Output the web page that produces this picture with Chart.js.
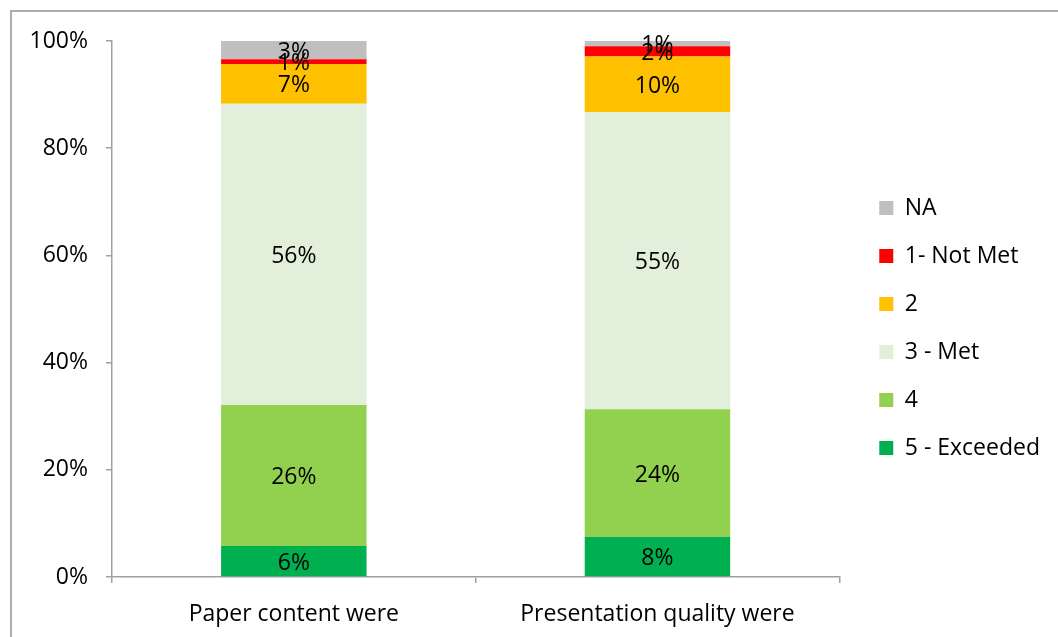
<!DOCTYPE html>
<html>
<head>
<meta charset="utf-8">
<script src="https://cdn.jsdelivr.net/npm/chart.js@4"></script>
<style>
  body { margin: 0; background: #fff; }
  .frame { position: absolute; left: 10px; top: 10px; width: 1100px; height: 700px;
           border-left: 2px solid #adadad; border-top: 2px solid #adadad; }
  .chart-box { position: absolute; left: 0; top: 0; width: 1058px; height: 637px; }
</style>
</head>
<body>
<div class="frame"></div>
<div class="chart-box"><canvas id="ratingChart"></canvas></div>
<script>
// questions on the x axis
const categories = ['Paper content were', 'Presentation quality were'];

// percent of answers, bottom of the stack first
const exceeded = [5.8, 7.5];
const four = [26.3, 23.8];
const met = [56.2, 55.4];
const two = [7.4, 10.4];
const notMet = [0.9, 1.9];
const na = [3.4, 1.0];

const yTicks = [0, 20, 40, 60, 80, 100];

const FONT = { family: 'Open Sans', size: 23 };
const AXIS_COLOR = '#a0a0a0';

// draws the % label in the middle of every bar piece
const barLabels = {
    id: 'barLabels',
    afterDatasetsDraw(chart) {
        const ctx = chart.ctx;
        ctx.save();
        ctx.font = FONT.size + 'px ' + FONT.family;
        ctx.fillStyle = '#000';
        ctx.textAlign = 'center';
        ctx.textBaseline = 'middle';
        chart.data.datasets.forEach((ds, di) => {
            const meta = chart.getDatasetMeta(di);
            meta.data.forEach((bar, i) => {
                ctx.fillText(Math.round(ds.data[i]) + '%', bar.x, (bar.y + bar.base) / 2 + 2);
            });
        });
        ctx.restore();
    }
};

// legend sits a bit further from the plot than chart.js puts it
const legendNudge = {
    id: 'legendNudge',
    afterLayout(chart) {
        chart.legend.left += 15;
        chart.legend.right += 15;
        chart.legend.top -= 11;
        chart.legend.bottom -= 11;
    }
};

new Chart(document.getElementById('ratingChart'), {
    type: 'bar',
    data: {
        labels: categories,
        datasets: [
            { label: '5 - Exceeded', data: exceeded, backgroundColor: '#00B050' },
            { label: '4', data: four, backgroundColor: '#92D050' },
            { label: '3 - Met', data: met, backgroundColor: '#E2EFDA' },
            { label: '2', data: two, backgroundColor: '#FFC000' },
            { label: '1- Not Met', data: notMet, backgroundColor: '#FF0000' },
            { label: 'NA', data: na, backgroundColor: '#BFBFBF' }
        ]
    },
    options: {
        responsive: true,
        maintainAspectRatio: false,
        animation: false,
        datasets: { bar: { categoryPercentage: 1, barPercentage: 0.4 } },
        layout: { padding: { top: 41, bottom: 0, left: 0, right: 23 } },
        plugins: {
            tooltip: { enabled: false },
            legend: {
                position: 'right',
                reverse: true,
                labels: {
                    font: FONT,
                    color: '#000',
                    boxWidth: 14,
                    boxHeight: 14,
                    padding: 25
                }
            }
        },
        scales: {
            x: {
                stacked: true,
                afterFit(scale) { scale.height = 60; },
                border: { display: true, color: AXIS_COLOR, width: 1.5 },
                grid: { offset: true, drawOnChartArea: false, tickLength: 6, color: AXIS_COLOR, lineWidth: 1.5 },
                ticks: { font: FONT, color: '#000', padding: 18 }
            },
            y: {
                stacked: true,
                min: 0,
                max: 100,
                afterFit(scale) { scale.width = 112; },
                afterBuildTicks(scale) { scale.ticks = yTicks.map(v => ({ value: v })); },
                border: { display: true, color: AXIS_COLOR, width: 1.5 },
                grid: { drawOnChartArea: false, tickLength: 6, color: AXIS_COLOR, lineWidth: 1.5 },
                ticks: { font: FONT, color: '#000', padding: 18, callback: v => v + '%' }
            }
        }
    },
    plugins: [barLabels, legendNudge]
});
</script>
</body>
</html>
